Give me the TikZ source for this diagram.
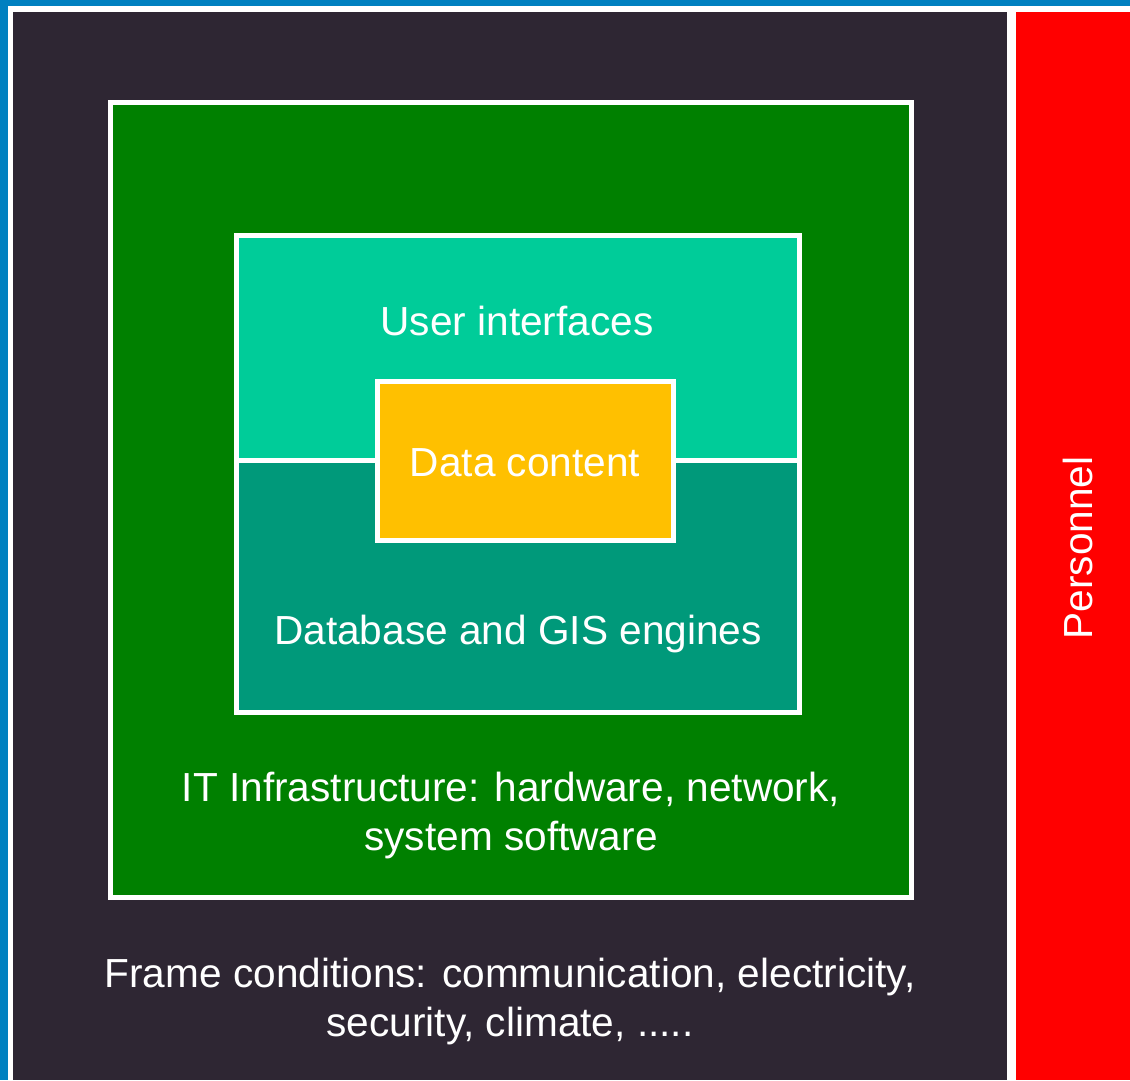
\documentclass[tikz,border=0pt]{standalone}
\usepackage{fontspec}
\setmainfont{Liberation Sans}
\definecolor{bgblue}{HTML}{0080C0}
\definecolor{darkframe}{HTML}{2E2633}
\definecolor{itgreen}{HTML}{008000}
\definecolor{uiteal}{HTML}{00CC99}
\definecolor{dbteal}{HTML}{00997A}
\definecolor{datayellow}{HTML}{FFC000}
\definecolor{persred}{HTML}{FF0000}
\begin{document}
\begin{tikzpicture}[x=1pt,y=-1pt,
  lbl/.style={text=white,font=\fontsize{40.6}{49}\selectfont,align=center,inner sep=0pt},
  box/.style={draw=white,line width=5pt}]
\useasboundingbox (0,0) rectangle (1130,1080);
\fill[bgblue] (0,0) rectangle (1130,1080);
\fill[white] (8,6) rectangle (1130,1080);
\fill[darkframe] (13,12) rectangle (1007,1080);
\fill[persred] (1016,12) rectangle (1130,1080);
% IT infrastructure
\path[box,fill=itgreen] (110,102) rectangle (911,897);
% UI / DB box
\fill[uiteal] (236,235) rectangle (799,460);
\fill[dbteal] (236,460) rectangle (799,712);
\draw[white,line width=5pt] (236,460) -- (799,460);
\draw[box] (236,235) rectangle (799,712);
% data content
\path[box,fill=datayellow] (377,381) rectangle (673,540);
% labels
\node[lbl] (ui) at (517,321) {User interfaces};
\node[lbl] (data) at (525,463) {Data content};
\node[lbl] (db) at (518,634) {Database and GIS engines};
\node[lbl] (it) at (511,815) {IT Infrastructure: hardware, network,\\system software};
\node[lbl] (frame) at (510,1001) {Frame conditions: communication, electricity,\\security, climate, .....};
\node[lbl,rotate=90] (pers) at (1078,548) {Personnel};
\end{tikzpicture}
\end{document}
